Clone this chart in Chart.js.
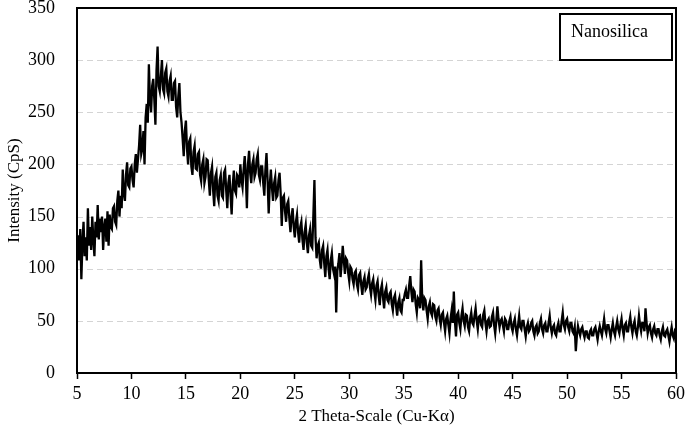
<!DOCTYPE html>
<html>
<head>
<meta charset="utf-8">
<script src="https://cdn.jsdelivr.net/npm/chart.js@4.4.1/dist/chart.umd.min.js"></script>
<style>
    html, body { margin: 0; padding: 0; background: #fff; }
    #wrap { width: 685px; height: 429px; }
</style>
</head>
<body>
<div id="wrap"><canvas id="xrdChart" width="685" height="429"></canvas></div>
<script>
// Scan settings (2-theta, degrees)
const THETA_START = 5;
const THETA_STEP = 0.1;

// Intensity (CpS) in 5 degree blocks, 0.1 degree steps
const int05to10 = [
    115, 132, 108, 138, 90, 125, 145, 112, 130, 108,
    158, 122, 140, 118, 150, 128, 112, 145, 130, 161,
    128, 148, 135, 150, 118, 140, 148, 126, 155, 122,
    152, 140, 138, 158, 160, 145, 142, 165, 175, 150,
    170, 158, 195, 172, 165, 190, 202, 180, 178, 196
];
const int10to15 = [
    198, 185, 178, 200, 210, 192, 205, 218, 238, 210,
    215, 232, 200, 245, 258, 240, 296, 262, 250, 275,
    282, 262, 238, 290, 313, 275, 270, 285, 300, 272,
    268, 288, 292, 270, 265, 280, 285, 262, 262, 278,
    280, 255, 245, 265, 278, 250, 240, 225, 208, 232
];
const int15to20 = [
    242, 215, 200, 222, 225, 198, 190, 212, 218, 196,
    195, 210, 212, 190, 184, 200, 205, 182, 188, 205,
    204, 185, 170, 192, 198, 175, 160, 188, 192, 170,
    165, 185, 190, 170, 168, 192, 195, 175, 158, 182,
    190, 170, 152, 180, 194, 175, 172, 190, 188, 178
];
const int20to25 = [
    200, 185, 178, 195, 208, 190, 158, 200, 213, 192,
    182, 200, 205, 188, 192, 205, 210, 190, 185, 198,
    198, 182, 170, 195, 211, 185, 153, 180, 195, 178,
    165, 182, 188, 168, 170, 185, 192, 172, 141, 168,
    170, 155, 145, 162, 165, 148, 135, 150, 158, 140
];
const int25to30 = [
    130, 145, 152, 135, 125, 140, 145, 128, 118, 135,
    142, 125, 115, 132, 138, 122, 120, 150, 185, 130,
    110, 122, 125, 108, 100, 118, 122, 105, 92, 112,
    118, 100, 90, 108, 115, 100, 95, 102, 58, 98,
    105, 115, 92, 105, 122, 108, 95, 110, 108, 96
];
const int30to35 = [
    88, 102, 100, 90, 85, 96, 98, 85, 80, 94,
    96, 84, 75, 88, 92, 80, 82, 90, 95, 82,
    75, 86, 90, 78, 70, 84, 88, 74, 65, 80,
    85, 72, 62, 78, 82, 70, 68, 76, 78, 66,
    60, 72, 75, 64, 55, 68, 72, 60, 58, 70
];
const int35to40 = [
    70, 76, 80, 72, 72, 84, 93, 78, 68, 80,
    78, 66, 58, 72, 70, 62, 108, 70, 60, 72,
    70, 60, 52, 64, 68, 58, 55, 66, 65, 54,
    50, 60, 62, 52, 46, 56, 58, 48, 40, 52,
    55, 46, 38, 52, 60, 48, 78, 50, 35, 56
];
const int40to45 = [
    58, 48, 42, 55, 62, 50, 45, 56, 55, 44,
    40, 52, 58, 48, 46, 55, 62, 50, 42, 54,
    55, 46, 44, 56, 60, 48, 40, 50, 52, 44,
    45, 54, 58, 46, 38, 50, 64, 52, 44, 50,
    52, 46, 40, 52, 50, 42, 42, 50, 54, 44
];
const int45to50 = [
    40, 48, 52, 42, 36, 46, 55, 44, 42, 50,
    50, 42, 35, 44, 48, 40, 42, 48, 50, 40,
    36, 44, 46, 38, 40, 48, 52, 42, 38, 46,
    48, 40, 40, 48, 55, 44, 38, 44, 46, 38,
    36, 44, 48, 40, 40, 50, 58, 46, 42, 50
];
const int50to55 = [
    52, 44, 40, 48, 48, 40, 38, 44, 21, 36,
    45, 40, 36, 42, 44, 38, 34, 40, 40, 34,
    33, 40, 42, 36, 36, 42, 44, 38, 32, 40,
    45, 40, 36, 44, 52, 42, 38, 46, 46, 40,
    34, 42, 48, 40, 36, 44, 50, 42, 38, 46
];
const int55to60 = [
    52, 42, 36, 46, 48, 40, 40, 48, 54, 44,
    38, 46, 50, 40, 36, 44, 55, 46, 40, 48,
    48, 40, 62, 48, 38, 44, 46, 38, 34, 42,
    45, 38, 36, 42, 42, 36, 32, 40, 44, 36,
    35, 40, 42, 36, 30, 38, 44, 36, 33, 40,
    38
];

const intensity = [].concat(
    int05to10, int10to15, int15to20, int20to25, int25to30, int30to35,
    int35to40, int40to45, int45to50, int50to55, int55to60
);

// 2-theta positions for each reading
const twoTheta = intensity.map((_, i) => +(THETA_START + i * THETA_STEP).toFixed(1));

const SERIF = "'Liberation Serif', 'Times New Roman', serif";
const LEGEND_LABEL = 'Nanosilica';

/**
 * Dashed horizontal grid lines, drawn under the trace
 */
const dashedGridPlugin = {
    id: 'dashedGrid',
    beforeDatasetsDraw(chart) {
        const { ctx, chartArea: a, scales: { y } } = chart;
        ctx.save();
        ctx.strokeStyle = '#d4d4d4';
        ctx.lineWidth = 1.2;
        ctx.setLineDash([6, 4]);
        y.ticks.forEach(t => {
            if (t.value <= y.min || t.value >= y.max) return;
            const py = Math.round(y.getPixelForValue(t.value)) + 0.5;
            ctx.beginPath();
            ctx.moveTo(a.left, py);
            ctx.lineTo(a.right, py);
            ctx.stroke();
        });
        ctx.restore();
    }
};

/**
 * Frame around the plot area plus the boxed sample label
 */
const framePlugin = {
    id: 'frameAndLabel',
    afterDraw(chart) {
        const { ctx, chartArea: a } = chart;
        ctx.save();
        ctx.strokeStyle = '#000';
        ctx.lineWidth = 2;
        ctx.strokeRect(a.left, a.top, a.right - a.left, a.bottom - a.top);

        // label box, top right
        ctx.fillStyle = '#fff';
        ctx.fillRect(560, 14, 112, 46);
        ctx.strokeRect(560, 14, 112, 46);
        ctx.fillStyle = '#000';
        ctx.font = `18px ${SERIF}`;
        ctx.textBaseline = 'middle';
        ctx.textAlign = 'left';
        ctx.fillText(LEGEND_LABEL, 571, 32);
        ctx.restore();
    }
};

const ctx = document.getElementById('xrdChart').getContext('2d');

new Chart(ctx, {
    type: 'line',
    data: {
        datasets: [{
            label: LEGEND_LABEL,
            data: twoTheta.map((t, i) => ({ x: t, y: intensity[i] })),
            borderColor: '#000',
            borderWidth: 2.3,
            borderJoinStyle: 'miter',
            pointRadius: 0,
            tension: 0,
            fill: false
        }]
    },
    options: {
        responsive: false,
        animation: false,
        layout: { padding: { top: 8, right: 9, left: 0, bottom: 0 } },
        plugins: {
            legend: { display: false },
            tooltip: { enabled: false }
        },
        scales: {
            x: {
                type: 'linear',
                min: 5,
                max: 60,
                afterFit: (scale) => {
                    scale.height = 56;
                    scale.paddingLeft = 0;
                    scale.paddingRight = 0;
                },
                ticks: {
                    stepSize: 5,
                    color: '#000',
                    padding: 4,
                    maxRotation: 0,
                    font: { family: SERIF, size: 18 }
                },
                grid: {
                    drawOnChartArea: false,
                    drawTicks: true,
                    tickLength: 6,
                    tickColor: '#000',
                    tickWidth: 1.5
                },
                border: { display: false },
                title: {
                    display: true,
                    text: '2 Theta-Scale (Cu-Kα)',
                    color: '#000',
                    padding: { top: 0, bottom: 2 },
                    font: { family: SERIF, size: 17 }
                }
            },
            y: {
                min: 0,
                max: 350,
                afterFit: (scale) => {
                    scale.width = 77;
                    scale.paddingTop = 0;
                    scale.paddingBottom = 0;
                },
                ticks: {
                    stepSize: 50,
                    color: '#000',
                    padding: 14,
                    font: { family: SERIF, size: 18 }
                },
                grid: { display: false },
                border: { display: false },
                title: {
                    display: true,
                    text: 'Intensity (CpS)',
                    color: '#000',
                    padding: { top: 4, bottom: 0 },
                    font: { family: SERIF, size: 17 }
                }
            }
        }
    },
    plugins: [dashedGridPlugin, framePlugin]
});
</script>
</body>
</html>
